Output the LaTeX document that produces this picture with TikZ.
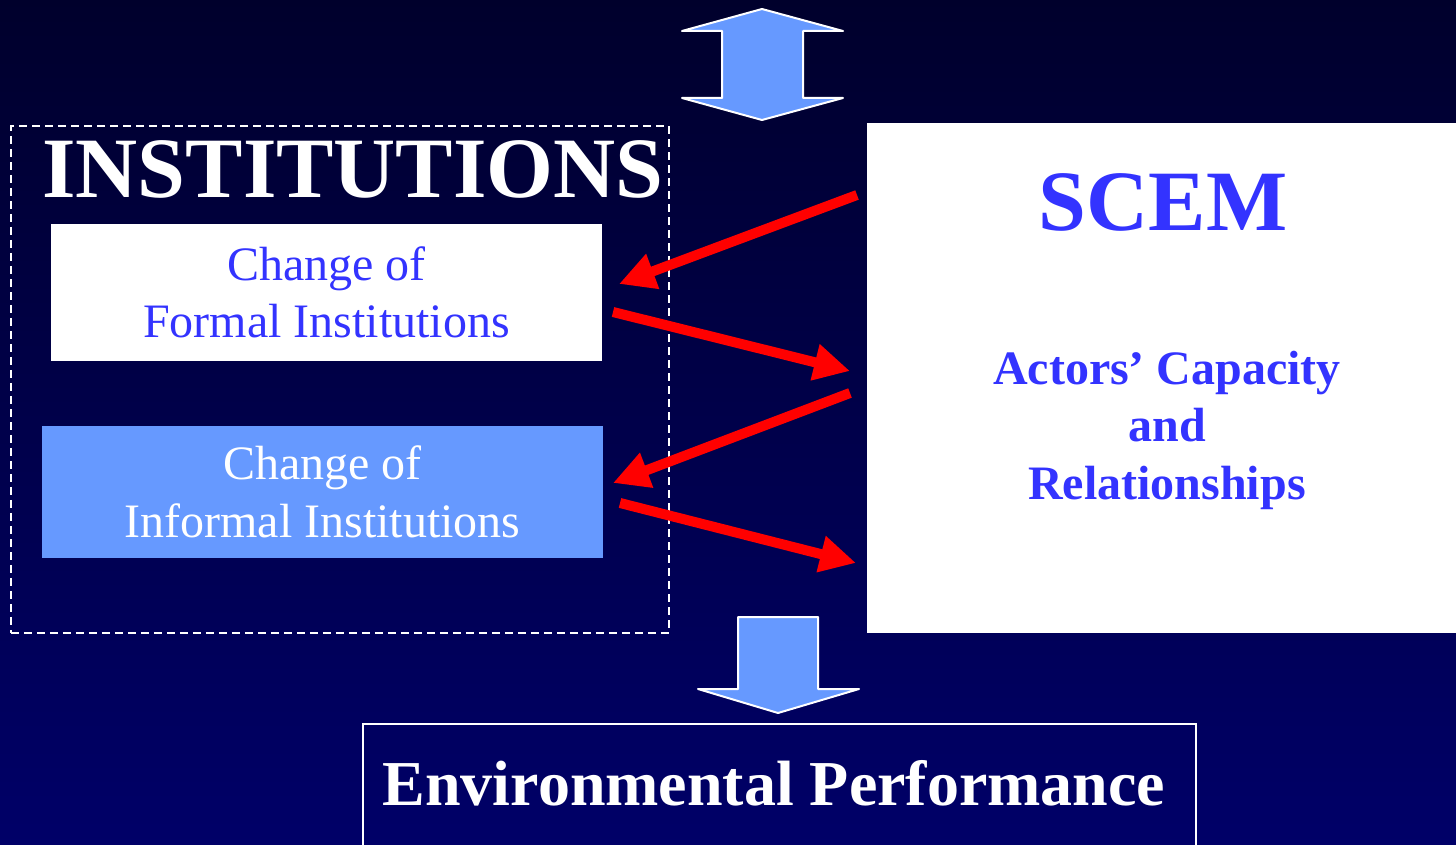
\documentclass[tikz,border=0pt]{standalone}
\usepackage{fontspec}
\setmainfont{Liberation Serif}
\usetikzlibrary{arrows.meta, positioning}
\definecolor{bgtop}{RGB}{0,0,44}
\definecolor{bgbot}{RGB}{0,0,104}
\definecolor{scemblue}{RGB}{51,51,255}
\definecolor{paleblue}{RGB}{102,153,255}
\tikzset{
  blockarrow/.style={fill=paleblue, draw=white, line width=2pt, line join=round},
  linkarrow/.style={draw=red, line width=10pt, -{Triangle[length=36pt,width=35pt]}},
  instbox/.style={inner sep=0pt, align=center, font=\fontsize{48}{57.5}\selectfont},
  bigtitle/.style={inner sep=0pt, anchor=base, font=\bfseries\fontsize{#1}{#1}\selectfont}
}
\begin{document}
\begin{tikzpicture}[x=1pt,y=-1pt]
  \useasboundingbox (0,0) rectangle (1456,845);
  \clip (0,0) rectangle (1456,845);
  \shade[top color=bgtop, bottom color=bgbot] (0,0) rectangle (1456,845);

  % institutions side
  \node[draw=white, line width=1.8pt, dash pattern=on 8pt off 5pt, minimum width=658pt, minimum height=507pt, anchor=north west] (instframe) at (10,125) {};
  \node[bigtitle=86, text=white] (insttitle) at (353,198) {INSTITUTIONS};
  \node[instbox, fill=white, text=scemblue, minimum width=551pt, minimum height=137pt] (formal) at (326.5,292.5) {Change of\\Formal Institutions};
  \node[instbox, fill=paleblue, text=white, minimum width=561pt, minimum height=132pt] (informal) at (322.5,492) {Change of\\Informal Institutions};

  % SCEM side
  \node[fill=white, minimum width=620pt, minimum height=510pt, anchor=north west] (scem) at (867,123) {};
  \node[bigtitle=86, text=scemblue] (scemtitle) at (1163,230) {SCEM};
  \node[align=center, inner sep=0pt, text=scemblue, font=\bfseries\fontsize{48}{57.5}\selectfont] (actors) at (1167,430) {Actors’ Capacity\\and\\Relationships};

  % result
  \node[draw=white, line width=2pt, minimum width=833pt, minimum height=160pt, anchor=north west] (envbox) at (362,723) {};
  \node[bigtitle=64, text=white] (envtext) at (774,805) {Environmental Performance};

  % block arrows
  \draw[blockarrow] (762,9) -- (843,31) -- (803,31) -- (803,98) -- (843,98) -- (762,120)
    -- (682,98) -- (722,98) -- (722,31) -- (682,31) -- cycle;
  \draw[blockarrow] (738,617) -- (818,617) -- (818,689) -- (859,689) -- (778,713)
    -- (698,689) -- (738,689) -- cycle;

  % red links
  \coordinate (s1) at (857,195);
  \coordinate (f1) at (619,284);
  \coordinate (f2) at (613,312);
  \coordinate (s2) at (850,371);
  \coordinate (s3) at (850,393);
  \coordinate (i1) at (613,483);
  \coordinate (i2) at (620,503);
  \coordinate (s4) at (856,563);
  \draw[linkarrow] (s1) -- (f1);
  \draw[linkarrow] (f2) -- (s2);
  \draw[linkarrow] (s3) -- (i1);
  \draw[linkarrow] (i2) -- (s4);
\end{tikzpicture}
\end{document}
